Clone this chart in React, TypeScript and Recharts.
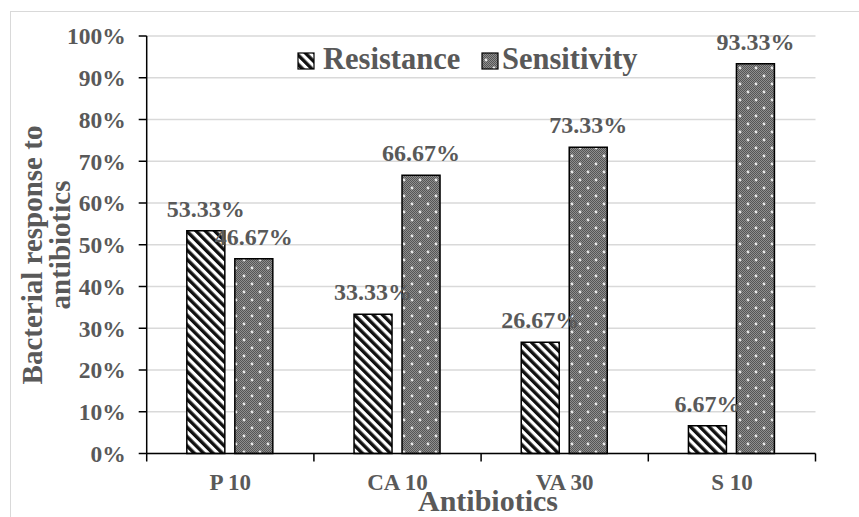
import React from "react"
import { BarChart, Bar, XAxis, YAxis, CartesianGrid, LabelList, Legend } from "recharts"

const antibiotics = ["P 10", "CA 10", "VA 30", "S 10"]
const resistance = [53.33, 33.33, 26.67, 6.67]
const sensitivity = [46.67, 66.67, 73.33, 93.33]
const yTicks = [0, 10, 20, 30, 40, 50, 60, 70, 80, 90, 100]

const data = antibiotics.map((name, i) => ({
  name,
  resistance: resistance[i],
  sensitivity: sensitivity[i],
}))

const W = 859
const H = 517
const PLOT_LEFT = 146.7
const PLOT_RIGHT = 815.5
const PLOT_TOP = 36
const PLOT_BOTTOM = 453.5
const BAND = (PLOT_RIGHT - PLOT_LEFT) / antibiotics.length

const FONT = "'Liberation Serif', 'Times New Roman', serif"
const TEXT = "#595959"

function CategoryTick(props: any) {
  const { x, y, payload, index } = props
  const half = BAND / 2
  return (
    <g>
      <line x1={x - half} y1={y} x2={x - half} y2={y + 8} stroke="#000" strokeWidth={1.5} />
      {index === antibiotics.length - 1 && (
        <line x1={x + half} y1={y} x2={x + half} y2={y + 8} stroke="#000" strokeWidth={1.5} />
      )}
      <text x={x} y={y + 36.5} textAnchor="middle" fill={TEXT} fontSize={23} fontWeight="bold" fontFamily={FONT}>
        {payload.value}
      </text>
    </g>
  )
}

function LegendBox() {
  return (
    <svg width={370} height={40} style={{ display: "block" }}>
      <rect x={8} y={13} width={16} height={16} fill="url(#stripes)" stroke="#000" strokeWidth={1.2} />
      <text x={33} y={29} fill={TEXT} fontSize={30.5} fontWeight="bold" fontFamily={FONT}>
        Resistance
      </text>
      <rect x={192} y={13} width={16} height={16} fill="url(#dots)" stroke="#000" strokeWidth={1.2} />
      <text x={212} y={29} fill={TEXT} fontSize={30.5} fontWeight="bold" fontFamily={FONT}>
        Sensitivity
      </text>
    </svg>
  )
}

function YTitle() {
  return (
    <g fill={TEXT} fontSize={29} fontWeight="bold" fontFamily={FONT}>
      <text x={42} y={255} textAnchor="middle" transform="rotate(-90 42 255)">
        Bacterial response to
      </text>
      <text x={70} y={245} textAnchor="middle" transform="rotate(-90 70 245)">
        antibiotics
      </text>
    </g>
  )
}

function XTitle() {
  return (
    <text x={488} y={511} textAnchor="middle" fill={TEXT} fontSize={30} fontWeight="bold" fontFamily={FONT}>
      Antibiotics
    </text>
  )
}

export default function App() {
  return (
    <div style={{ position: "absolute", left: 0, top: 0, width: W, height: H, overflow: "hidden", background: "#fff" }}>
      <div
        style={{
          position: "absolute",
          left: 10,
          top: 11,
          width: W - 10,
          height: H - 11,
          borderLeft: "1.5px solid #d9d9d9",
          borderTop: "1.5px solid #d9d9d9",
        }}
      />
      <BarChart
        width={W}
        height={H}
        data={data}
        margin={{ top: PLOT_TOP, right: W - PLOT_RIGHT, left: 0, bottom: 0 }}
        barCategoryGap="24%"
        barGap={10}
        style={{ fontFamily: FONT }}
      >
        <defs>
          <pattern id="stripes" width={6.6} height={6.6} patternUnits="userSpaceOnUse" patternTransform="rotate(-45)">
            <rect width={6.6} height={6.6} fill="#fff" />
            <rect width={3.4} height={6.6} fill="#111" />
          </pattern>
          <pattern id="checker" width={2} height={2} patternUnits="userSpaceOnUse">
            <rect width={2} height={2} fill="#8e8e8e" />
            <rect width={1} height={1} fill="#555" />
            <rect x={1} y={1} width={1} height={1} fill="#555" />
          </pattern>
          <pattern id="dots" width={16} height={16} patternUnits="userSpaceOnUse">
            <rect width={16} height={16} fill="url(#checker)" />
            <circle cx={4} cy={4} r={1.4} fill="#e8e8e8" />
            <circle cx={12} cy={12} r={1.4} fill="#e8e8e8" />
          </pattern>
        </defs>
        <CartesianGrid vertical={false} stroke="#d9d9d9" strokeWidth={1.5} />
        <XAxis
          dataKey="name"
          height={H - PLOT_BOTTOM}
          axisLine={{ stroke: "#000", strokeWidth: 1.5 }}
          tickLine={false}
          tickSize={0}
          tickMargin={0}
          tick={<CategoryTick />}
          interval={0}
          label={{ content: () => <XTitle /> }}
        />
        <YAxis
          width={PLOT_LEFT}
          domain={[0, 100]}
          ticks={yTicks}
          interval={0}
          tickFormatter={(v: number) => `${v}%`}
          axisLine={{ stroke: "#000", strokeWidth: 1.5 }}
          tickLine={{ stroke: "#000", strokeWidth: 1.5 }}
          tickSize={8}
          tickMargin={13}
          tick={{ fill: TEXT, fontSize: 23.5, fontWeight: "bold", fontFamily: FONT }}
          label={{ content: () => <YTitle /> }}
        />
        <Legend
          layout="vertical"
          align="center"
          verticalAlign="middle"
          content={() => <LegendBox />}
          wrapperStyle={{ left: 290, top: 40, width: 370 }}
        />
        <Bar dataKey="resistance" fill="url(#stripes)" stroke="#000" strokeWidth={1.5} isAnimationActive={false}>
          <LabelList
            dataKey="resistance"
            position="top"
            offset={14}
            formatter={(v: any) => `${Number(v).toFixed(2)}%`}
            fill={TEXT}
            fontSize={24}
            fontWeight="bold"
            fontFamily={FONT}
          />
        </Bar>
        <Bar dataKey="sensitivity" fill="url(#dots)" stroke="#000" strokeWidth={1.5} isAnimationActive={false}>
          <LabelList
            dataKey="sensitivity"
            position="top"
            offset={14}
            formatter={(v: any) => `${Number(v).toFixed(2)}%`}
            fill={TEXT}
            fontSize={24}
            fontWeight="bold"
            fontFamily={FONT}
          />
        </Bar>
      </BarChart>
    </div>
  )
}
